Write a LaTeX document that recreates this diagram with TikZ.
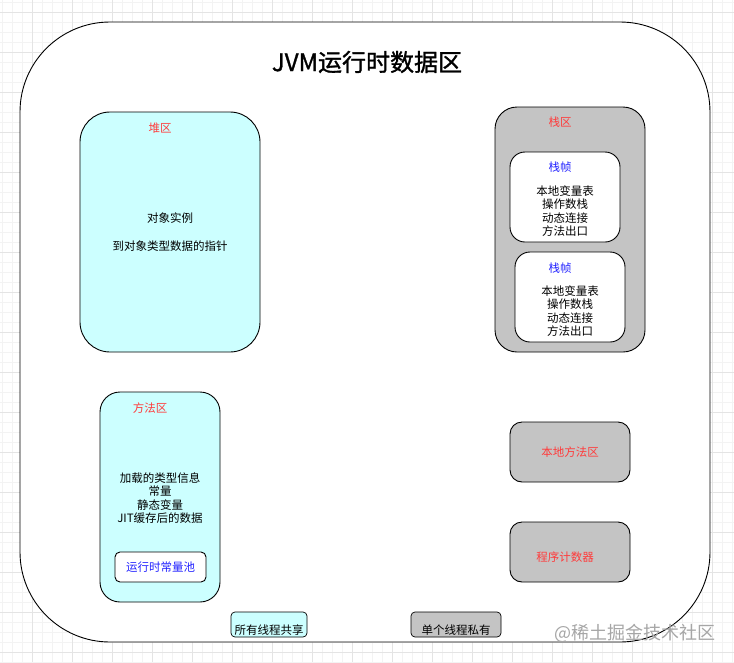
\documentclass[tikz,border=0pt]{standalone}
\usepackage{fontspec}
\setmainfont{Noto Sans CJK SC}
\newfontfamily\titlefont[FakeBold=1.2]{Noto Sans CJK SC}
\begin{document}
\begin{tikzpicture}[x=1pt,y=-1pt,
  box/.style={draw=black,line width=0.9pt,inner sep=0pt},
  cyanbox/.style={box,fill=cyanfill},
  graybox/.style={box,fill=grayfill},
  whitebox/.style={box,fill=white},
  txt/.style={font=\fontsize{11.5}{13.6}\selectfont,align=center,inner sep=0pt},
  redtxt/.style={txt,text=redtxt},
  bluetxt/.style={txt,text=bluetxt}]
\definecolor{cyanfill}{HTML}{CCFFFF}
\definecolor{grayfill}{HTML}{C4C4C4}
\definecolor{redtxt}{HTML}{FF3B3B}
\definecolor{bluetxt}{HTML}{2222FF}
\definecolor{gridminor}{HTML}{F3F3F3}
\definecolor{gridmajor}{HTML}{E4E4E4}
\useasboundingbox (0,0) rectangle (734,662);
\fill[white] (0,0) rectangle (734,662);
% grid
\foreach \i in {0,...,73}{\draw[gridminor,line width=0.6pt] (2+10*\i,0) -- (2+10*\i,662);}
\foreach \i in {0,...,66}{\draw[gridminor,line width=0.6pt] (0,2+10*\i) -- (734,2+10*\i);}
\foreach \i in {0,...,17}{\draw[gridmajor,line width=0.7pt] (32+40*\i,0) -- (32+40*\i,662);}
\foreach \i in {0,...,16}{\draw[gridmajor,line width=0.7pt] (0,12+40*\i) -- (734,12+40*\i);}
% outer
\node[box,fill=white,rounded corners=90pt,minimum width=690pt,minimum height=620pt] (outer) at (365,332) {};
\node[txt,font=\fontsize{24}{28}\titlefont] (title) at (367,62) {JVM运行时数据区};
% heap
\node[cyanbox,rounded corners=30pt,minimum width=180pt,minimum height=240pt] (heap) at (170,232) {};
\node[redtxt] (heapl) at (160,128) {堆区};
\node[txt] (heapt) at (170,232) {对象实例\\[14pt]到对象类型数据的指针};
% stack
\node[graybox,rounded corners=22pt,minimum width=150pt,minimum height=245pt] (stack) at (570,229.5) {};
\node[redtxt] (stackl) at (560,122) {栈区};
\node[whitebox,rounded corners=15pt,minimum width=110pt,minimum height=90pt] (f1) at (565,197) {};
\node[bluetxt] (f1l) at (560,167) {栈帧};
\node[txt] (f1t) at (565,211) {本地变量表\\操作数栈\\动态连接\\方法出口};
\node[whitebox,rounded corners=15pt,minimum width=110pt,minimum height=90pt] (f2) at (570,297) {};
\node[bluetxt] (f2l) at (560,268) {栈帧};
\node[txt] (f2t) at (570,311) {本地变量表\\操作数栈\\动态连接\\方法出口};
% method area
\node[cyanbox,rounded corners=20pt,minimum width=120pt,minimum height=210pt] (method) at (160,497) {};
\node[redtxt] (methodl) at (150,408) {方法区};
\node[txt] (methodt) at (160,498) {加载的类型信息\\常量\\静态变量\\JIT缓存后的数据};
\node[whitebox,rounded corners=5pt,minimum width=91pt,minimum height=30pt] (pool) at (160.5,567) {};
\node[bluetxt] (poolt) at (160.5,567) {运行时常量池};
% native & pc
\node[graybox,rounded corners=12pt,minimum width=120pt,minimum height=60pt] (native) at (570,452) {};
\node[redtxt] (nativet) at (570,452) {本地方法区};
\node[graybox,rounded corners=12pt,minimum width=120pt,minimum height=60pt] (pc) at (570,552) {};
\node[redtxt] (pct) at (565,557) {程序计数器};
% legend
\node[cyanbox,rounded corners=4pt,minimum width=76pt,minimum height=25pt,line width=0.7pt] (shared) at (269,624.5) {};
\node[txt] (sharedt) at (269,630) {所有线程共享};
\node[graybox,rounded corners=4pt,minimum width=90pt,minimum height=25pt,line width=0.7pt] (private) at (456,624.5) {};
\node[txt] (privatet) at (456,630) {单个线程私有};
% watermark
\node[txt,anchor=west,text=black!35,font=\fontsize{18}{20}\selectfont] (wm) at (554,633) {@稀土掘金技术社区};
\end{tikzpicture}
\end{document}
